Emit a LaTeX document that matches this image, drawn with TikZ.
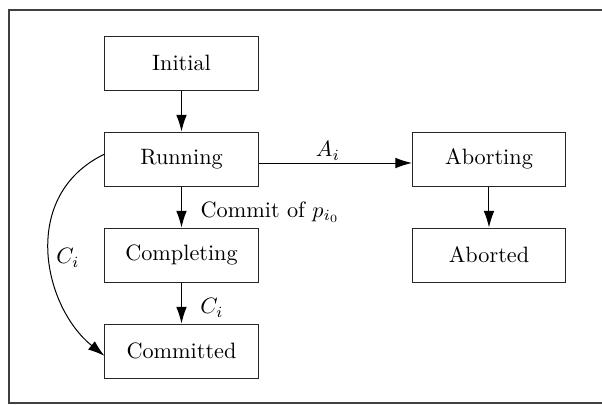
\documentclass[tikz,border=0pt]{standalone}
\usetikzlibrary{arrows.meta}
\begin{document}
\begin{tikzpicture}[x=0.45pt,y=-0.45pt,
  state/.style={draw=black!85, rectangle, minimum width=68.85pt, minimum height=24.3pt, inner sep=0pt, line width=0.45pt},
  arr/.style={-{Latex[length=7.5pt,width=4.8pt]}, line width=0.45pt},
  lbl/.style={inner sep=1pt}]
  \useasboundingbox (0,0) rectangle (602,405);
  % outer frame
  \draw[line width=0.5pt, black!75] (9,10) rectangle (610,403);

  % states
  \node[state] (init) at (181.5,63)  {Initial};
  \node[state] (run)  at (181.5,159) {Running};
  \node[state] (cpl)  at (181.5,255) {Completing};
  \node[state] (cmt)  at (181.5,351) {Committed};
  \node[state] (abt)  at (489,159)   {Aborting};
  \node[state] (abd)  at (489,255)   {Aborted};

  % transitions
  \draw[arr] (init) -- (run);
  \draw[arr] (run) -- (cpl);
  \draw[arr] (cpl) -- (cmt);
  \draw[arr] (abt) -- (abd);
  \draw[arr] ([yshift=-1.8pt]run.east) -- ([yshift=-1.8pt]abt.west);
  \draw[arr] ([yshift=2.2pt]run.west) .. controls +(-85,41) and +(-62,-50) .. ([yshift=-2.2pt]cmt.west);

  % labels
  \node[lbl] (la) at (328,151) {$A_i$};
  \node[lbl, anchor=west] (lc) at (198,212) {Commit of $p_{i_0}$};
  \node[lbl] (lci) at (68,258) {$C_i$};
  \node[lbl] (lcr) at (212,308) {$C_i$};
\end{tikzpicture}
\end{document}
